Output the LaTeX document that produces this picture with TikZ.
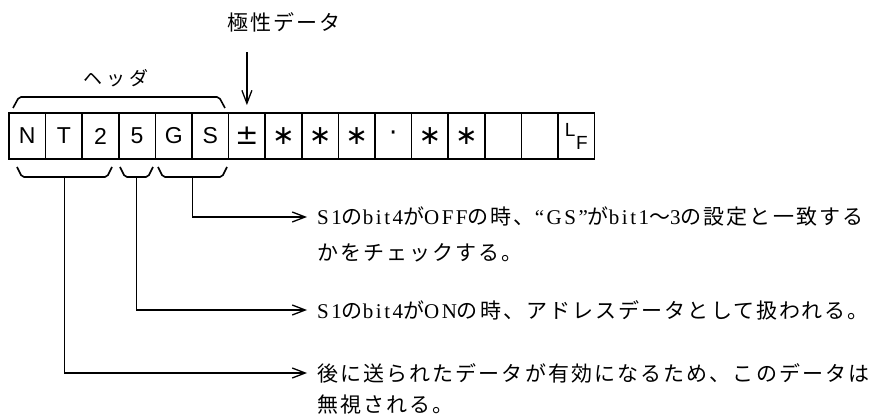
\documentclass[tikz,border=0pt]{standalone}
\usepackage{fontspec}
\setmainfont{Liberation Sans}
\newfontfamily\jp{Noto Sans CJK JP}[LetterSpace=10]
\newfontfamily\jph{Noto Sans CJK JP}[LetterSpace=22]
\newfontfamily\lat{Liberation Serif}[LetterSpace=12]
\newfontfamily\dv{DejaVu Sans}
\newcommand{\lt}[1]{{\lat\fontsize{21}{21}\selectfont #1}}
\usetikzlibrary{arrows.meta,calc}
\tikzset{
  cell/.style={draw, line width=1.7pt, minimum width=36.6pt, minimum height=46pt, inner sep=0pt,
    font=\fontsize{23}{23}\selectfont},
  starcell/.style={cell, font=\dv\fontsize{27}{27}\selectfont},
  brace/.style={line width=1.6pt, rounded corners=2pt},
  conn/.style={line width=1.6pt, -{Straight Barb[length=13pt,width=10pt,line width=1.3pt]}},
  desc/.style={anchor=west, inner xsep=10pt, inner ysep=0pt, font=\jp\fontsize{21}{21}\selectfont},
}
\begin{document}
\begin{tikzpicture}[x=1pt,y=-1pt]
\useasboundingbox (0,0) rectangle (878,419);
% cells
\node[cell] (c1) at (27.3,136) {N};
\node[cell] (c2) at (63.9,136) {T};
\node[cell] (c3) at (100.5,136) {2};
\node[cell] (c4) at (137.1,136) {5};
\node[cell] (c5) at (173.7,136) {G};
\node[cell] (c6) at (210.3,136) {S};
\node[cell, font=\dv\fontsize{28}{28}\selectfont] (c7) at (246.9,136) {±};
\node[starcell] (c8) at (283.5,136) {∗};
\node[starcell] (c9) at (320.1,136) {∗};
\node[starcell] (c10) at (356.7,136) {∗};
\node[cell, font=\dv\fontsize{26}{26}\selectfont] (c11) at (393.3,136) {·};
\node[starcell] (c12) at (429.9,136) {∗};
\node[starcell] (c13) at (466.5,136) {∗};
\node[cell] (c14) at (503.1,136) {};
\node[cell] (c15) at (539.7,136) {};
\node[cell, font=\fontsize{19}{19}\selectfont] (c16) at (576.3,136) {\raisebox{6pt}{L}\hspace{0.5pt}\raisebox{-7pt}{F}};
% header brace
\draw[brace] (13,108) -- (19,97) -- (219,97) -- (225,108);
\node[font=\jph\fontsize{19}{19}\selectfont] (hd) at (116,78) {ヘッダ};
% polarity label
\node[font=\jp\fontsize{21}{21}\selectfont] (pol) at (284,22) {極性データ};
\draw[conn, shorten <=17pt, shorten >=7pt] (c7.north |- pol.south) -- (c7.north);
% lower braces
\draw[brace] (17,167) -- (22,177) -- (107,177) -- (112,167);
\draw[brace] (120,167) -- (125,177) -- (148,177) -- (153,167);
\draw[brace] (158,167) -- (163,177) -- (222,177) -- (227,167);
\coordinate (m1) at (64.5,177);
\coordinate (m2) at (136.5,177);
\coordinate (m3) at (192.5,177);
% descriptions
\node[desc] (t1a) at (307,217) {\lt{S1}の\lt{bit4}が\lt{OFF}の時、\lt{“GS”}が\lt{bit1}～\lt{3}の設定と一致する};
\node[desc] (t1b) at (307,253) {かをチェックする。};
\node[desc] (t2) at (307,310) {\lt{S1}の\lt{bit4}が\lt{ON}の時、アドレスデータとして扱われる。};
\node[desc] (t3a) at (307,373) {後に送られたデータが有効になるため、このデータは};
\node[desc] (t3b) at (307,405) {無視される。};
% connectors
\draw[conn] (m3) |- (t1a.west);
\draw[conn] (m2) |- (t2.west);
\draw[conn] (m1) |- (t3a.west);
\end{tikzpicture}
\end{document}
